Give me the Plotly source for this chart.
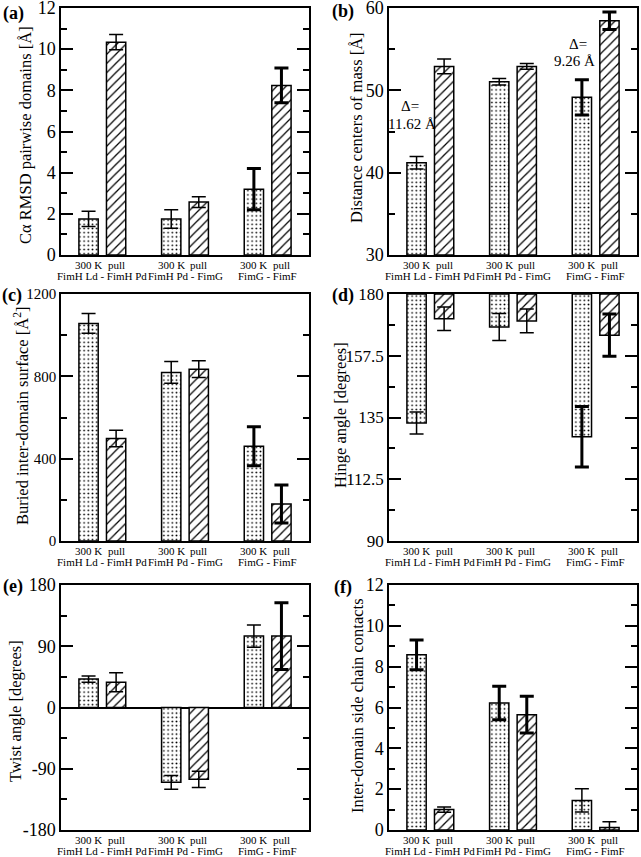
import plotly.graph_objects as go

W, H = 641, 857
FONT = '"Liberation Serif", "Times New Roman", Times, serif'

# ---------------- data ----------------
group_names = ["FimH Ld - FimH Pd", "FimH Pd - FimG", "FimG - FimF"]
bar_labels = ["300 K", "pull"]
x_300 = [1, 4, 7]
x_pull = [2, 5, 8]
x_group = [1.5, 4.5, 7.5]

rmsd_300 = [1.75, 1.75, 3.2]
rmsd_300_err = [0.37, 0.45, 1.0]
rmsd_pull = [10.34, 2.57, 8.24]
rmsd_pull_err = [0.37, 0.26, 0.84]

com_300 = [41.2, 51.05, 49.15]
com_300_err = [0.75, 0.4, 2.15]
com_pull = [52.9, 52.9, 58.45]
com_pull_err = [0.9, 0.35, 1.07]

surf_300 = [1057, 819, 460]
surf_300_err = [48, 53, 95]
surf_pull = [498, 835, 180]
surf_pull_err = [40, 41, 92]

hinge_300 = [133, 168, 128]
hinge_300_err = [4.0, 4.9, 11.0]
hinge_pull = [171, 170.2, 165]
hinge_pull_err = [4.3, 4.3, 7.7]

twist_300 = [41.7, -110, 105]
twist_300_err = [4.6, 10, 16.4]
twist_pull = [37, -105.5, 105]
twist_pull_err = [14, 12, 49]

cont_300 = [8.58, 6.22, 1.45]
cont_300_err = [0.73, 0.82, 0.57]
cont_pull = [1.0, 5.65, 0.12]
cont_pull_err = [0.13, 0.9, 0.28]

delta_labels = [("Δ=", "11.62 Å"), ("Δ=", "9.26 Å")]

# ---------------- styling / layout ----------------
thick_a = ([False, False, True], [False, False, True])
thick_e = ([False, False, False], [False, False, True])
thick_f = ([True, True, False], [False, True, False])

# panel pixel boxes: (left, right, top, bottom)
boxes = [
    (61, 309, 8, 255), (389, 637, 8, 255),
    (61, 309, 294, 541), (389, 637, 294, 541),
    (61, 309, 585, 830), (389, 637, 585, 830),
]

panels = [
    dict(letter="(a)", title="Cα RMSD pairwise domains [Å]", v300=rmsd_300, e300=rmsd_300_err,
         vpull=rmsd_pull, epull=rmsd_pull_err, rng=[0, 12], tickvals=[0, 2, 4, 6, 8, 10, 12],
         minor=1, base=0, thick=thick_a, tpos=(25, 135), lpos=(13, 14), tfs=18),
    dict(letter="(b)", title="Distance centers of mass [Å]", v300=com_300, e300=com_300_err,
         vpull=com_pull, epull=com_pull_err, rng=[30, 60], tickvals=[30, 40, 50, 60],
         minor=5, base=30, thick=thick_a, tpos=(357, 128), lpos=(343, 11), tfs=18),
    dict(letter="(c)", title="Buried inter-domain surface [Å<sup>2</sup>]", v300=surf_300, e300=surf_300_err,
         vpull=surf_pull, epull=surf_pull_err, rng=[0, 1200], tickvals=[0, 400, 800, 1200],
         minor=200, base=0, thick=thick_a, tpos=(21, 416), lpos=(12, 296), tfs=15),
    dict(letter="(d)", title="Hinge angle [degrees]", v300=hinge_300, e300=hinge_300_err,
         vpull=hinge_pull, epull=hinge_pull_err, rng=[90, 180], tickvals=[90, 112.5, 135, 157.5, 180],
         minor=11.25, base=180, thick=thick_a, tpos=(340, 415), lpos=(343, 296), tfs=17),
    dict(letter="(e)", title="Twist angle [degrees]", v300=twist_300, e300=twist_300_err,
         vpull=twist_pull, epull=twist_pull_err, rng=[-180, 180], tickvals=[-180, -90, 0, 90, 180],
         minor=45, base=0, thick=thick_e, tpos=(15, 711), lpos=(13, 586), tfs=18),
    dict(letter="(f)", title="Inter-domain side chain contacts", v300=cont_300, e300=cont_300_err,
         vpull=cont_pull, epull=cont_pull_err, rng=[0, 12], tickvals=[0, 2, 4, 6, 8, 10, 12],
         minor=1, base=0, thick=thick_f, tpos=(357, 706), lpos=(343, 587), tfs=18),
]


def px(x):
    return x / W


def py(y):
    return 1 - y / H


fig = go.Figure()
annotations = []
layout = {}

pat_dot = dict(shape=".", size=4.2, solidity=0.14, fgcolor="black", bgcolor="white")
pat_hatch = dict(shape="/", size=6.5, solidity=0.2, fgcolor="black", bgcolor="white")

for i, p in enumerate(panels):
    n = i + 1
    xa = "x" if n == 1 else f"x{n}"
    ya = "y" if n == 1 else f"y{n}"
    l, r, t, b = boxes[i]
    base = p["base"]
    for xs, vals, pat in ((x_300, p["v300"], pat_dot), (x_pull, p["vpull"], pat_hatch)):
        fig.add_trace(go.Bar(
            x=xs, y=[v - base for v in vals], base=base, width=0.7,
            marker=dict(color="white", pattern=pat, line=dict(color="black", width=1.5)),
            xaxis=xa, yaxis=ya, showlegend=False, hoverinfo="skip"))
    for k, (xs, vals, errs) in enumerate(((x_300, p["v300"], p["e300"]),
                                          (x_pull, p["vpull"], p["epull"]))):
        for j in range(3):
            fig.add_trace(go.Scatter(
                x=[xs[j]], y=[vals[j]], mode="markers",
                marker=dict(size=1, color="rgba(0,0,0,0)"),
                error_y=dict(type="data", array=[errs[j]], color="black",
                             thickness=3 if p["thick"][k][j] else 1.5, width=7),
                xaxis=xa, yaxis=ya, showlegend=False, hoverinfo="skip"))

    key = "" if n == 1 else str(n)
    layout[f"xaxis{key}"] = dict(
        domain=[px(l), px(r)], anchor=ya, range=[0, 9], showline=True, mirror=True,
        linecolor="black", linewidth=1.5, ticks="", showticklabels=False,
        showgrid=False, zeroline=False, fixedrange=True, automargin=False)
    layout[f"yaxis{key}"] = dict(
        domain=[py(b), py(t)], anchor=xa, range=p["rng"], showline=True, mirror="ticks",
        linecolor="black", linewidth=1.5, ticks="inside", ticklen=12, tickwidth=1.5,
        tickcolor="black", tickmode="array", tickvals=p["tickvals"],
        ticktext=[f"{v:g}" for v in p["tickvals"]], ticklabeloverflow="allow",
        tickfont=dict(family=FONT, size=p["tfs"], color="black"),
        minor=dict(ticks="inside", ticklen=6, tickwidth=1.5, tickcolor="black",
                   tickmode="linear", dtick=p["minor"], tick0=p["rng"][0], showgrid=False),
        showgrid=False, zeroline=(n == 5), zerolinecolor="black", zerolinewidth=1.5,
        fixedrange=True, automargin=False)

    annotations.append(dict(text=f"<b>{p['letter']}</b>", x=px(p["lpos"][0]), y=py(p["lpos"][1]),
                            xref="paper", yref="paper", xanchor="center", yanchor="middle",
                            showarrow=False, font=dict(family=FONT, size=18, color="black")))
    annotations.append(dict(text=p["title"], x=px(p["tpos"][0]), y=py(p["tpos"][1]),
                            xref="paper", yref="paper", xanchor="center", yanchor="middle",
                            showarrow=False, textangle=-90,
                            font=dict(family=FONT, size=16.5, color="black")))
    for j in range(3):
        for xs, lab in ((x_300, bar_labels[0]), (x_pull, bar_labels[1])):
            annotations.append(dict(text=lab, x=xs[j], y=py(b + 9.5), xref=xa, yref="paper",
                                    xanchor="center", yanchor="middle", showarrow=False,
                                    font=dict(family=FONT, size=11, color="black")))
        annotations.append(dict(text=group_names[j], x=x_group[j], y=py(b + 21), xref=xa,
                                yref="paper", xanchor="center", yanchor="middle", showarrow=False,
                                font=dict(family=FONT, size=11, color="black")))

delta_pos = [((0.78, 48.1), (0.83, 45.9)), ((6.87, 55.6), (6.72, 53.6))]
for (l1, l2), (p1, p2) in zip(delta_labels, delta_pos):
    for txt, (xx, yy) in ((l1, p1), (l2, p2)):
        annotations.append(dict(text=txt, x=xx, y=yy, xref="x2", yref="y2", showarrow=False,
                                xanchor="center", yanchor="middle",
                                font=dict(family=FONT, size=15, color="black")))

fig.update_layout(
    template="none",
    width=W, height=H, margin=dict(l=0, r=0, t=0, b=0, pad=0),
    paper_bgcolor="white", plot_bgcolor="white", barmode="overlay",
    annotations=annotations, font=dict(family=FONT, color="black"),
    **layout)

fig.write_html("out.html", config={"displayModeBar": False},
               post_script="document.body.style.margin='0';")
